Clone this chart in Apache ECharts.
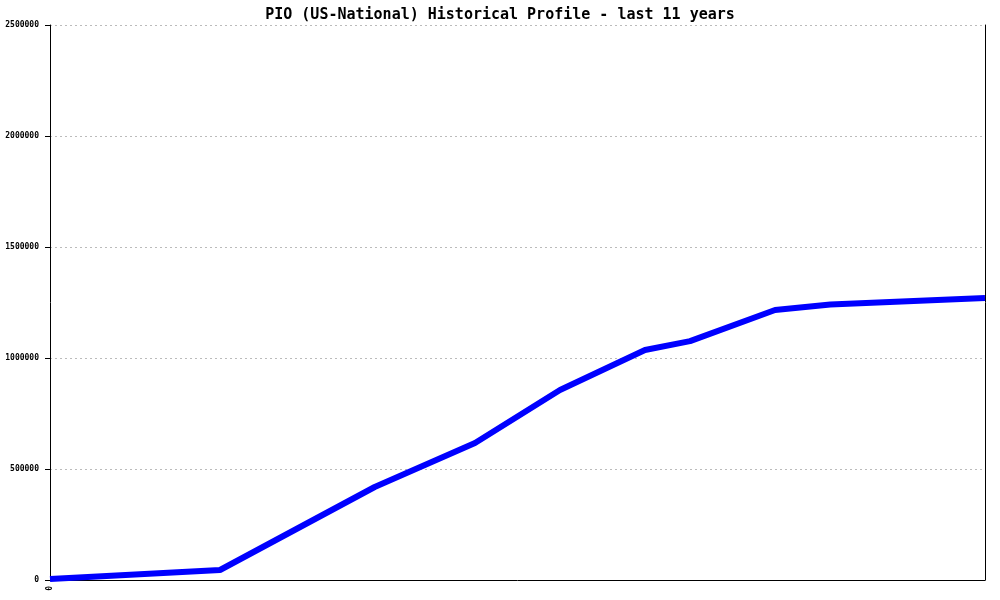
<!DOCTYPE html>
<html>
<head>
<meta charset="utf-8">
<script src="https://cdn.jsdelivr.net/npm/echarts@6/dist/echarts.min.js"></script>
<style>html,body{margin:0;padding:0;background:#fff}#c{width:1000px;height:600px}</style>
</head>
<body>
<div id="c"></div>
<script>
const titleText = "PIO (US-National) Historical Profile - last 11 years";
// x positions in years from start
const years = [0, 2.0, 3.82, 5.0, 6.0, 7.0, 7.53, 8.53, 9.18, 11];
const values = [5000, 45000, 419000, 617000, 856000, 1036000, 1076000, 1216000, 1241000, 1270000];
const yMin = 0, yMax = 2500000, yStep = 500000;

const chart = echarts.init(document.getElementById('c'), null, {renderer: 'canvas'});
const mono = "'DejaVu Sans Mono', 'Liberation Mono', monospace";
chart.setOption({
  animation: false,
  backgroundColor: '#fff',
  title: {
    text: titleText, left: 'center', top: 3,
    textStyle: {fontFamily: mono, fontSize: 15, fontWeight: 'bold', color: '#000'}
  },
  grid: {left: 50, right: 15, top: 25, bottom: 20, containLabel: false, outerBoundsMode: 'none'},
  xAxis: {
    type: 'value', min: 0, max: 11, interval: 11,
    axisLine: {show: true, onZero: false, lineStyle: {color: '#000', width: 1}},
    axisTick: {show: false},
    splitLine: {show: false},
    axisLabel: {
      rotate: 90, margin: 6, fontFamily: mono, fontSize: 8, fontWeight: 'bold', color: '#000',
      formatter: v => v === 0 ? '0' : ''
    }
  },
  yAxis: [{
    type: 'value', min: yMin, max: yMax, interval: yStep,
    axisLine: {show: true, lineStyle: {color: '#000', width: 1}},
    axisTick: {show: true, length: 5, lineStyle: {color: '#000'}},
    axisLabel: {fontFamily: mono, fontSize: 8, fontWeight: 'bold', color: '#000', margin: 11,
      formatter: v => String(v)},
    splitLine: {show: true, lineStyle: {color: '#bbbbbb', type: [2, 3], width: 1}}
  }, {
    type: 'value', min: yMin, max: yMax, interval: yStep, position: 'right',
    axisLine: {show: true, lineStyle: {color: '#000', width: 1}},
    axisTick: {show: false}, axisLabel: {show: false}, splitLine: {show: false}
  }],
  series: [{
    type: 'line',
    data: years.map((y, i) => [y, values[i]]),
    showSymbol: false,
    lineStyle: {color: '#0000ff', width: 6},
    itemStyle: {color: '#0000ff'}
  }]
});
</script>
</body>
</html>
